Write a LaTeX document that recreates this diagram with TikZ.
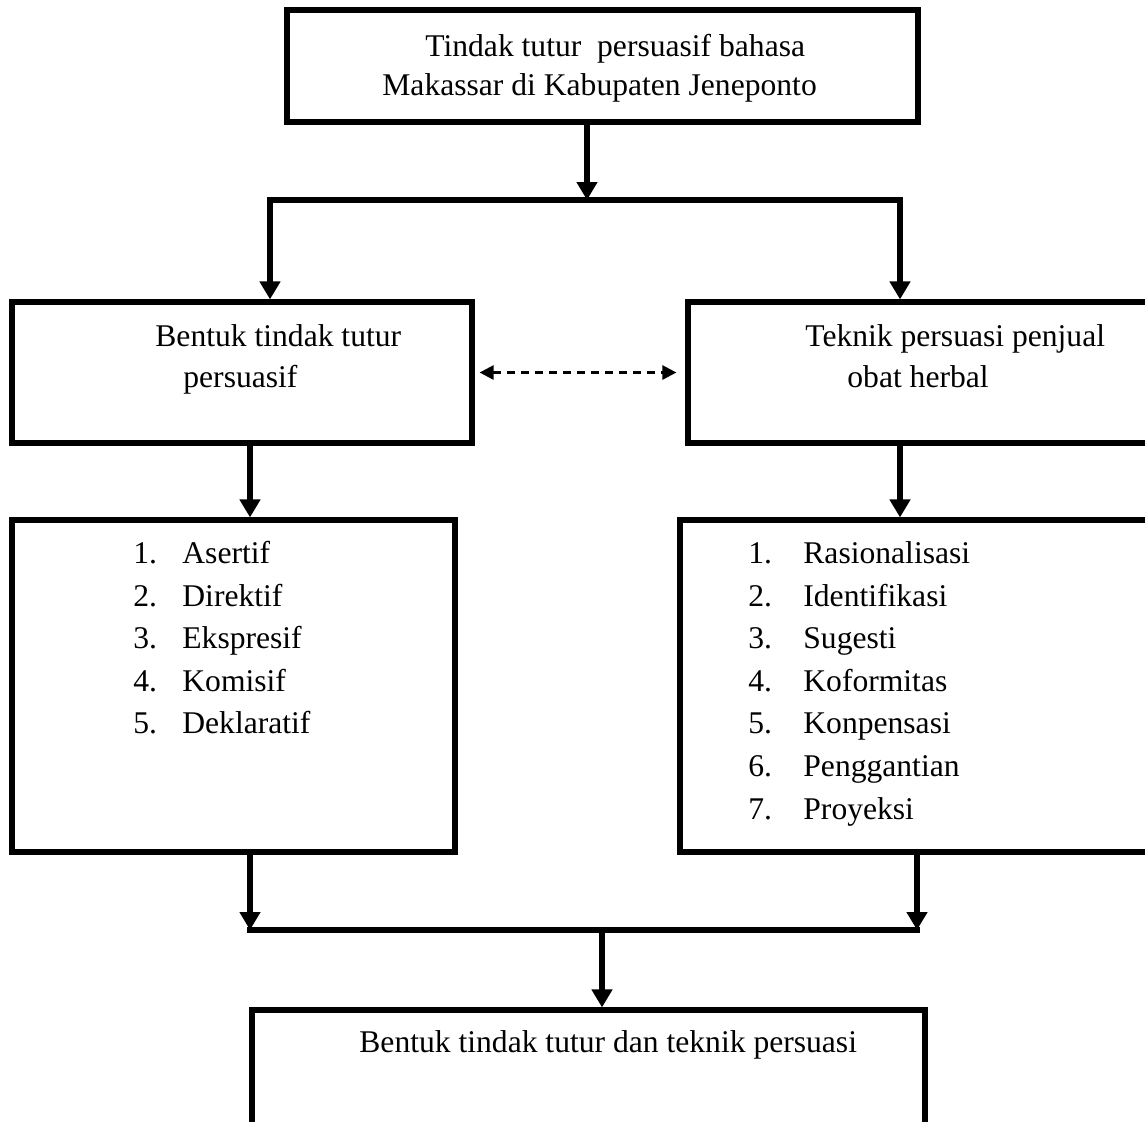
\documentclass[tikz,border=0pt]{standalone}
\usepackage{fontspec}
\setmainfont{Liberation Serif}
\usetikzlibrary{arrows.meta}
\tikzset{
  kotak/.style={draw,line width=2.6pt,inner sep=0pt},
  teks/.style={anchor=base west,inner sep=0pt,font=\fontsize{15.8}{19}\selectfont},
  garis/.style={line width=3pt,line cap=rect},
  panah/.style={line width=3pt,-{Triangle[width=10pt,length=9pt]}},
  panahputus/.style={line width=1.3pt,dash pattern=on 4pt off 3pt,
    {Triangle[width=7pt,length=7pt]}-{Triangle[width=7pt,length=7pt]}},
}
\begin{document}
\begin{tikzpicture}[x=0.5pt,y=-0.5pt]
    \useasboundingbox (0,0) rectangle (1145,1121);
    \clip (0,0) rectangle (1145,1121);
    % Top box
    \node[kotak,minimum width=315.5pt,minimum height=56pt] (judul) at (602.5,66) {};
    \node[teks] (judul1) at (425,56) {Tindak tutur \ persuasif bahasa};
    \node[teks] (judul2) at (382,95) {Makassar di Kabupaten Jeneponto};
    % Middle boxes
    \node[kotak,minimum width=230pt,minimum height=70.5pt] (bentuk) at (242,372.5) {};
    \node[teks] (bentuk1) at (155,346) {Bentuk tindak tutur};
    \node[teks] (bentuk2) at (183,387) {persuasif};
    \node[kotak,minimum width=256pt,minimum height=70.5pt] (teknik) at (944,372.5) {};
    \node[teks] (teknik1) at (805,346) {Teknik persuasi penjual};
    \node[teks] (teknik2) at (847,387) {obat herbal};
    \draw[panahputus] ([xshift=2.5pt]bentuk.east) -- ([xshift=-4.5pt]teknik.west);
    % Left list
    \node[kotak,minimum width=221.5pt,minimum height=166pt] (jenis) at (233.5,686) {};
    \node[teks] (n1) at (133,563) {1.};
    \node[teks] (n2) at (133,606) {2.};
    \node[teks] (n3) at (133,648) {3.};
    \node[teks] (n4) at (133,691) {4.};
    \node[teks] (n5) at (133,733) {5.};
    \node[teks] (j1) at (182,563) {Asertif};
    \node[teks] (j2) at (182,606) {Direktif};
    \node[teks] (j3) at (182,648) {Ekspresif};
    \node[teks] (j4) at (182,691) {Komisif};
    \node[teks] (j5) at (182,733) {Deklaratif};
    % Right list
    \node[kotak,minimum width=260pt,minimum height=166pt] (cara) at (940,686) {};
    \node[teks] (m1) at (748,563) {1.};
    \node[teks] (m2) at (748,606) {2.};
    \node[teks] (m3) at (748,648) {3.};
    \node[teks] (m4) at (748,691) {4.};
    \node[teks] (m5) at (748,733) {5.};
    \node[teks] (m6) at (748,776) {6.};
    \node[teks] (m7) at (748,819) {7.};
    \node[teks] (c1) at (803,563) {Rasionalisasi};
    \node[teks] (c2) at (803,606) {Identifikasi};
    \node[teks] (c3) at (803,648) {Sugesti};
    \node[teks] (c4) at (803,691) {Koformitas};
    \node[teks] (c5) at (803,733) {Konpensasi};
    \node[teks] (c6) at (803,776) {Penggantian};
    \node[teks] (c7) at (803,819) {Proyeksi};
    % Bottom box
    \node[kotak,minimum width=336.5pt,minimum height=95pt] (hasil) at (588.5,1105) {};
    \node[teks] (hasil1) at (359,1052) {Bentuk tindak tutur dan teknik persuasi};
    % Upper branches
    \coordinate (cabang) at (587,200);
    \coordinate (cabangKiri) at (270,200);
    \coordinate (cabangKanan) at (900,200);
    \draw[panah] (judul.south -| cabang) -- (cabang);
    \draw[garis] (cabangKiri) -- (cabangKanan);
    \draw[panah] (cabangKiri) -- (bentuk.north -| cabangKiri);
    \draw[panah] (cabangKanan) -- (teknik.north -| cabangKanan);
    % Middle arrows
    \draw[panah] (bentuk.south -| 250,0) -- (jenis.north -| 250,0);
    \draw[panah] (teknik.south -| 900,0) -- (cara.north -| 900,0);
    % Lower branches
    \coordinate (gabung) at (602,930);
    \coordinate (gabungKiri) at (250,930);
    \coordinate (gabungKanan) at (917,930);
    \draw[panah] (jenis.south -| gabungKiri) -- (gabungKiri);
    \draw[panah] (cara.south -| gabungKanan) -- (gabungKanan);
    \draw[garis] (gabungKiri) -- (gabungKanan);
    \draw[panah] (gabung) -- (hasil.north -| gabung);
\end{tikzpicture}
\end{document}
